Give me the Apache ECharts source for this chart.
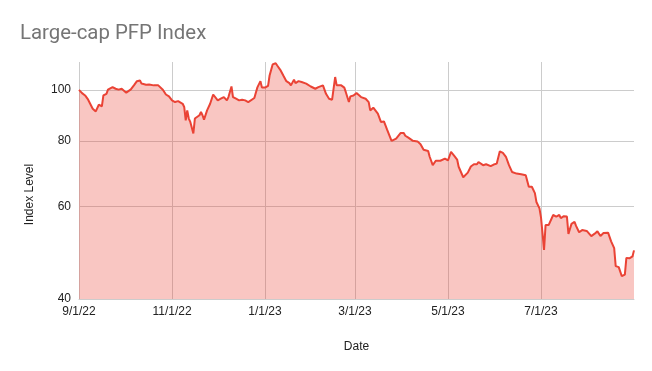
<!DOCTYPE html>
<html>
<head>
<meta charset="utf-8">
<script src="https://cdn.jsdelivr.net/npm/echarts@6/dist/echarts.min.js"></script>
<style>
html,body{margin:0;padding:0;background:#fff;}
#chart{width:652px;height:371px;}
</style>
</head>
<body>
<div id="chart"></div>
<script>
// Series start date 2022-09-01; dayIndex = days since start
const startDate = [2022, 8, 1];
const dayIndex = [0,2,4,6,9,11,13,15,16,18,
19,22,24,26,28,31,34,36,38,40,
41,44,46,49,52,55,57,59,61,63,
65,68,69,70,71,72,73,74,75,76,
79,80,81,82,84,86,88,91,93,95,
97,98,100,101,103,105,107,109,111,112,
115,117,119,120,122,124,125,127,129,130,
132,133,134,136,138,139,141,142,144,146,
149,152,155,157,160,161,162,164,166,168,
169,170,172,174,175,177,178,180,182,185,
188,190,191,193,196,198,200,202,205,206,
208,211,213,214,216,219,222,224,226,229,
230,232,234,237,240,242,244,246,248,249,
250,252,255,257,259,261,262,265,266,267,
270,272,274,276,278,280,282,284,287,290,
293,295,297,299,300,302,303,304,305,306,
308,311,313,315,316,318,320,321,323,325,
326,328,330,333,336,338,340,342,344,347,
349,351,352,354,356,358,359,361,363,364];
const indexLevel = [100.0,98.6,97.6,95.8,92.1,91.0,93.7,93.0,97.6,98.3,
100.1,101.2,100.5,100.1,100.5,98.8,100.2,102.0,103.9,104.2,
102.8,102.3,102.4,102.0,102.0,100.1,98.0,97.2,95.5,94.8,
95.2,94.1,92.8,87.5,91.4,88.2,86.9,86.3,82.6,88.2,
89.5,90.8,89.5,87.8,91.4,94.1,98.0,95.5,96.2,96.9,
95.5,96.9,101.5,96.9,96.2,95.5,95.8,95.5,94.8,95.5,
96.5,101.1,103.9,101.0,101.0,101.8,106.5,111.8,112.4,111.3,
109.2,109.7,106.5,103.9,103.0,102.0,104.6,103.0,103.9,103.5,
102.8,101.5,100.5,101.2,102.0,101.5,98.3,96.2,95.8,105.8,
102.0,102.8,102.0,101.0,99.0,94.8,97.2,97.6,98.6,96.9,
96.2,94.8,91.4,92.5,90.1,86.9,87.1,84.1,80.0,80.4,
80.8,82.8,82.8,81.8,81.1,80.0,79.8,78.8,76.9,76.5,
74.6,71.9,73.3,73.3,74.0,73.4,76.2,75.0,73.7,71.4,
70.9,68.2,69.6,71.5,72.2,72.2,72.9,71.9,71.4,72.2,
71.6,72.1,72.4,76.4,75.9,74.6,71.9,69.8,69.3,69.1,
68.8,65.4,65.4,63.6,61.2,59.5,57.2,53.4,49.6,55.3,
55.3,57.8,57.4,57.8,57.0,57.5,57.4,53.2,55.6,56.1,
55.1,53.6,54.1,53.9,52.7,53.2,53.8,52.7,53.4,53.5,
51.5,50.0,46.2,46.0,44.2,44.5,47.9,47.8,48.2,49.5];
const xTickDates = ['2022-09-01','2022-11-01','2023-01-01','2023-03-01','2023-05-01','2023-07-01'];
const xTickLabels = ['9/1/22','11/1/22','1/1/23','3/1/23','5/1/23','7/1/23'];
const yTicks = [40, 60, 80, 100];

function dateToDay(s) {
  const p = s.split('-').map(Number);
  const t0 = Date.UTC(startDate[0], startDate[1], startDate[2]);
  return Math.round((Date.UTC(p[0], p[1] - 1, p[2]) - t0) / 86400000);
}
const seriesData = dayIndex.map((d, i) => [d, indexLevel[i]]);
const xTickDays = xTickDates.map(dateToDay);

const chart = echarts.init(document.getElementById('chart'), null, {renderer: 'canvas'});
chart.setOption({
  animation: false,
  backgroundColor: '#ffffff',
  title: {
    text: 'Large-cap PFP Index',
    left: 15,
    top: 19,
    textStyle: {fontFamily: 'Roboto', fontSize: 20.4, fontWeight: 'normal', color: '#757575'}
  },
  grid: {left: 79, right: 18, top: 62, bottom: 72, containLabel: false},
  xAxis: {
    type: 'value',
    min: 0,
    max: dayIndex[dayIndex.length - 1],
    name: 'Date',
    nameLocation: 'middle',
    nameGap: 42,
    nameTextStyle: {fontFamily: 'Liberation Sans', fontSize: 12, color: '#222222'},
    axisLine: {show: true, onZero: false, lineStyle: {color: '#cccccc', width: 1}},
    axisTick: {show: false, customValues: xTickDays},
    axisLabel: {
      customValues: xTickDays,
      margin: 7,
      hideOverlap: false,
      fontFamily: 'Liberation Sans', fontSize: 12, color: '#222222',
      formatter: function (v) {
        const i = xTickDays.indexOf(Math.round(v));
        return i >= 0 ? xTickLabels[i] : '';
      }
    },
    splitLine: {show: true, lineStyle: {color: '#cccccc', width: 1}}
  },
  yAxis: {
    type: 'log',
    logBase: 10,
    min: 40,
    max: 113,
    name: 'Index Level',
    nameLocation: 'middle',
    nameGap: 43,
    nameRotate: 90,
    nameTextStyle: {fontFamily: 'Liberation Sans', fontSize: 12, color: '#222222', padding: [0, 28, 0, 0]},
    axisLine: {show: false},
    axisTick: {show: false, customValues: yTicks},
    axisLabel: {
      customValues: yTicks,
      margin: 8,
      fontFamily: 'Liberation Sans', fontSize: 12, color: '#222222'
    },
    splitLine: {show: true, lineStyle: {color: '#cccccc', width: 1}}
  },
  series: [{
    type: 'line',
    data: seriesData,
    showSymbol: false,
    symbol: 'none',
    lineStyle: {color: '#ea4335', width: 2},
    itemStyle: {color: '#ea4335'},
    areaStyle: {color: '#ea4335', opacity: 0.3, origin: 'start'}
  }]
});
</script>
</body>
</html>
